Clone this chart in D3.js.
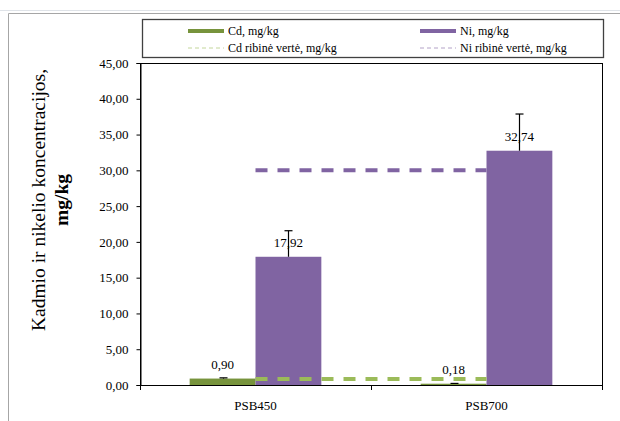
<!DOCTYPE html>
<html>

<head>
    <meta charset="utf-8">
    <script src="https://d3js.org/d3.v7.min.js"></script>
    <style>
        body { margin: 0; background: #fff; }
        text { font-family: "Liberation Serif", "Times New Roman", serif; fill: #000; }
    </style>
</head>

<body>
    <script type="text/javascript">
        // duomenys
        let categories = ["PSB450", "PSB700"];
        let seriesNames = ["Cd, mg/kg", "Ni, mg/kg"];
        let cdValues = [0.90, 0.18];
        let niValues = [17.92, 32.74];
        let cdErrors = [0.10, 0.04];
        let niErrors = [3.64, 5.13];
        let cdLimit = [0.85, 0.85];
        let niLimit = [30.0, 30.0];
        let yTicks = [0, 5, 10, 15, 20, 25, 30, 35, 40, 45];
        let legendNames = ["Cd, mg/kg", "Ni, mg/kg", "Cd ribinė vertė, mg/kg", "Ni ribinė vertė, mg/kg"];

        let width = 620, height = 421;
        let plot = {left: 140, right: 602, top: 63, bottom: 385};

        let colors = {cd: "#77933C", ni: "#8064A2", cdLine: "#9BBB59", niLine: "#8064A2"};

        let svg = d3.select("body")
            .append("svg")
            .attr("width", width)
            .attr("height", height);

        // skaičiuoklės tinklelis ir diagramos rėmas
        svg.append("line")
            .attr("x1", 0).attr("x2", width).attr("y1", 10.5).attr("y2", 10.5)
            .attr("stroke", "#dfe3e8");
        svg.append("path")
            .attr("d", "M8.5," + height + "V13.5H" + width)
            .attr("fill", "none")
            .attr("stroke", "#a6a6a6");

        let x0 = d3.scaleBand()
            .domain(categories)
            .range([plot.left, plot.right]);

        let x1 = d3.scaleBand()
            .domain(seriesNames)
            .range([x0.bandwidth() * 0.215, x0.bandwidth() * 0.785]);

        let y = d3.scaleLinear()
            .domain([0, 45])
            .range([plot.bottom, plot.top]);

        let fmt = v => d3.format(".2f")(v).replace(".", ",");

        // plot area rėmas
        svg.append("rect")
            .attr("x", plot.left + 0.5).attr("y", plot.top + 0.5)
            .attr("width", plot.right - plot.left)
            .attr("height", plot.bottom - plot.top)
            .attr("fill", "none")
            .attr("stroke", "#000");

        // ašys
        let yAxis = svg.append("g")
            .attr("transform", "translate(" + (plot.left + 0.5) + ",0)")
            .call(d3.axisLeft(y).tickValues(yTicks).tickFormat(fmt).tickSize(4).tickPadding(8));
        yAxis.select(".domain").attr("stroke", "#000");
        yAxis.selectAll(".tick line").attr("stroke", "#000");
        yAxis.selectAll("text").style("font-size", "13px");

        let xAxis = svg.append("g")
            .attr("transform", "translate(0," + (plot.bottom + 0.5) + ")")
            .call(d3.axisBottom(x0).tickSize(0).tickPadding(15));
        xAxis.select(".domain").remove();
        xAxis.selectAll("text").style("font-size", "13px");
        svg.append("g")
            .selectAll("line")
            .data([plot.left, (plot.left + plot.right) / 2, plot.right])
            .join("line")
            .attr("x1", d => d + 0.5).attr("x2", d => d + 0.5)
            .attr("y1", plot.bottom).attr("y2", plot.bottom + 5)
            .attr("stroke", "#000");

        // stulpeliai
        let bars = [];
        categories.forEach((c, i) => {
            bars.push({cat: c, s: seriesNames[0], v: cdValues[i], e: cdErrors[i], color: colors.cd});
            bars.push({cat: c, s: seriesNames[1], v: niValues[i], e: niErrors[i], color: colors.ni});
        });

        svg.append("g")
            .selectAll("rect")
            .data(bars)
            .join("rect")
            .attr("x", d => x0(d.cat) + x1(d.s))
            .attr("y", d => y(d.v))
            .attr("width", x1.bandwidth())
            .attr("height", d => y(0) - y(d.v))
            .attr("fill", d => d.color);

        // ribinės vertės
        let limitLine = d3.line()
            .x((d, i) => x0(categories[i]) + x0.bandwidth() / 2)
            .y(d => y(d));

        svg.append("path")
            .attr("d", limitLine(niLimit))
            .attr("fill", "none")
            .attr("stroke", colors.niLine)
            .attr("stroke-width", 4)
            .attr("stroke-dasharray", "12,10");

        svg.append("path")
            .attr("d", limitLine(cdLimit))
            .attr("fill", "none")
            .attr("stroke", colors.cdLine)
            .attr("stroke-width", 4)
            .attr("stroke-dasharray", "12,10");

        // paklaidos
        let err = svg.append("g").attr("stroke", "#000").attr("stroke-width", 1.2);
        let cx = d => Math.round(x0(d.cat) + x1(d.s) + x1.bandwidth() / 2) + 0.5;
        err.selectAll(".stem")
            .data(bars)
            .join("line")
            .attr("x1", cx).attr("x2", cx)
            .attr("y1", d => y(d.v)).attr("y2", d => y(d.v + d.e));
        err.selectAll(".cap")
            .data(bars)
            .join("line")
            .attr("x1", d => cx(d) - 4).attr("x2", d => cx(d) + 4)
            .attr("y1", d => y(d.v + d.e)).attr("y2", d => y(d.v + d.e));

        // reikšmių etiketės
        svg.append("g")
            .selectAll("text")
            .data(bars)
            .join("text")
            .attr("x", d => x0(d.cat) + x1(d.s) + x1.bandwidth() / 2)
            .attr("y", d => y(d.v) - 10)
            .attr("text-anchor", "middle")
            .style("font-size", "13px")
            .text(d => fmt(d.v));

        // y ašies pavadinimas
        let title = svg.append("text")
            .attr("transform", "translate(45,200) rotate(-90)")
            .attr("text-anchor", "middle")
            .style("font-size", "19.5px");
        title.append("tspan")
            .attr("x", 0).attr("dy", 0)
            .text("Kadmio ir nikelio koncentracijos,");
        title.append("tspan")
            .attr("x", 0).attr("dy", 23)
            .style("font-weight", "bold")
            .text("mg/kg");

        // legenda
        let legend = svg.append("g");
        legend.append("rect")
            .attr("x", 142.5).attr("y", 19.5)
            .attr("width", 461).attr("height", 38)
            .attr("fill", "#fff")
            .attr("stroke", "#404040")
            .attr("stroke-width", 1.3);

        let legendItems = [
            {name: legendNames[0], x: 188, y: 31, color: colors.cd, dashed: false},
            {name: legendNames[1], x: 420, y: 31, color: colors.ni, dashed: false},
            {name: legendNames[2], x: 188, y: 48, color: "#c3d69b", dashed: true},
            {name: legendNames[3], x: 420, y: 48, color: "#b3a2c7", dashed: true}
        ];

        let li = legend.selectAll(".item")
            .data(legendItems)
            .join("g")
            .attr("transform", d => "translate(" + d.x + "," + d.y + ")");
        li.append("line")
            .attr("x1", 0).attr("x2", 36)
            .attr("y1", 0).attr("y2", 0)
            .attr("stroke", d => d.color)
            .attr("stroke-width", d => d.dashed ? 1 : 4)
            .attr("stroke-dasharray", d => d.dashed ? "4,3" : null);
        li.append("text")
            .attr("x", 40).attr("y", 4)
            .style("font-size", "12px")
            .text(d => d.name);
    </script>
</body>

</html>
